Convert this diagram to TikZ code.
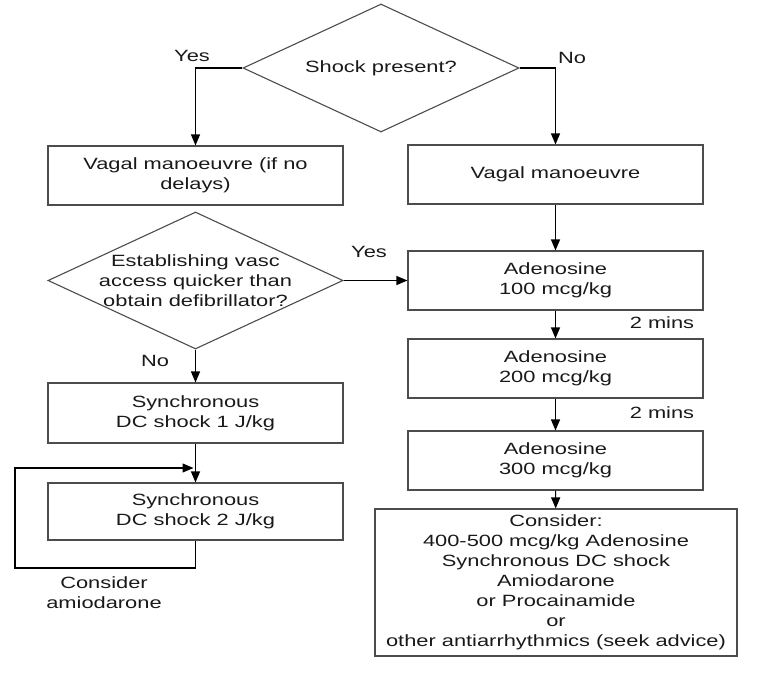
\documentclass[tikz,border=0pt]{standalone}
\usepackage{fontspec}
\setmainfont[FakeStretch=1.34]{Liberation Sans}
\usetikzlibrary{shapes.geometric,arrows.meta}
\begin{document}
\begin{tikzpicture}[x=1pt, y=-1pt, line width=1.1pt, >={Triangle[length=11pt,width=9pt]},
  every node/.style={font=\fontsize{16.3}{20}\selectfont, text=black!90},
  stepbox/.style={draw=black!70, minimum width=295, minimum height=59, inner sep=0, align=center},
  decision/.style={diamond, draw=black!70, inner sep=0},
  flow/.style={->, black}]
\useasboundingbox (0,0) rectangle (760,675);
% decisions
\node[decision, minimum width=276, minimum height=128, label={center:Shock present?}] (shock) at (381,68) {};
\node[decision, minimum width=295, minimum height=137,
  label={[align=center]center:Establishing vasc\\access quicker than\\obtain defibrillator?}] (access) at (195.5,280.5) {};
% boxes
\node[stepbox] (vagalyes) at (195.5,175.5) {Vagal manoeuvre (if no\\delays)};
\node[stepbox] (vagalno) at (555.5,174.5) {Vagal manoeuvre};
\foreach \dose/\y in {100/280.5, 200/368.5, 300/460.5}
  \node[stepbox] (aden\dose) at (555.5,\y) {Adenosine\\\dose\ mcg/kg};
\node[stepbox, minimum height=60] (dcone) at (195.5,413) {Synchronous\\DC shock 1 J/kg};
\node[stepbox, minimum height=57] (dctwo) at (195.5,511.5) {Synchronous\\DC shock 2 J/kg};
\node[stepbox, minimum width=362, minimum height=147] (consider) at (556,582.5)
  {Consider:\\400-500 mcg/kg Adenosine\\Synchronous DC shock\\Amiodarone\\or Procainamide\\or\\other antiarrhythmics (seek advice)};
% connectors
\draw[flow] (shock.west) -| (vagalyes.north);
\draw[flow] (shock.east) -| (vagalno.north);
\draw[flow] (vagalno) -- (aden100);
\draw[flow] (access.east) -- (aden100.west);
\draw[flow] (access.south) -- (dcone.north);
\draw[flow] (dcone) -- (dctwo);
\foreach \a/\b in {aden100/aden200, aden200/aden300, aden300/consider}
  \draw[flow] (\a) -- (\b);
\coordinate (loopbot) at (15,568);
\coordinate (looptop) at (15,468);
\draw[flow, shorten >=2pt] (dctwo.south) |- (loopbot) -- (looptop) -- (looptop -| dctwo.north);
% labels
\node (yesleft) at (192,56) {Yes};
\node (noright) at (572,58) {No};
\node (yesmid) at (369,252) {Yes};
\node (noleft) at (155,361) {No};
\node (minsone) at (662,323) {2 mins};
\node (minstwo) at (662,413) {2 mins};
\node[align=center] (amio) at (104,593) {Consider\\amiodarone};
\end{tikzpicture}
\end{document}
